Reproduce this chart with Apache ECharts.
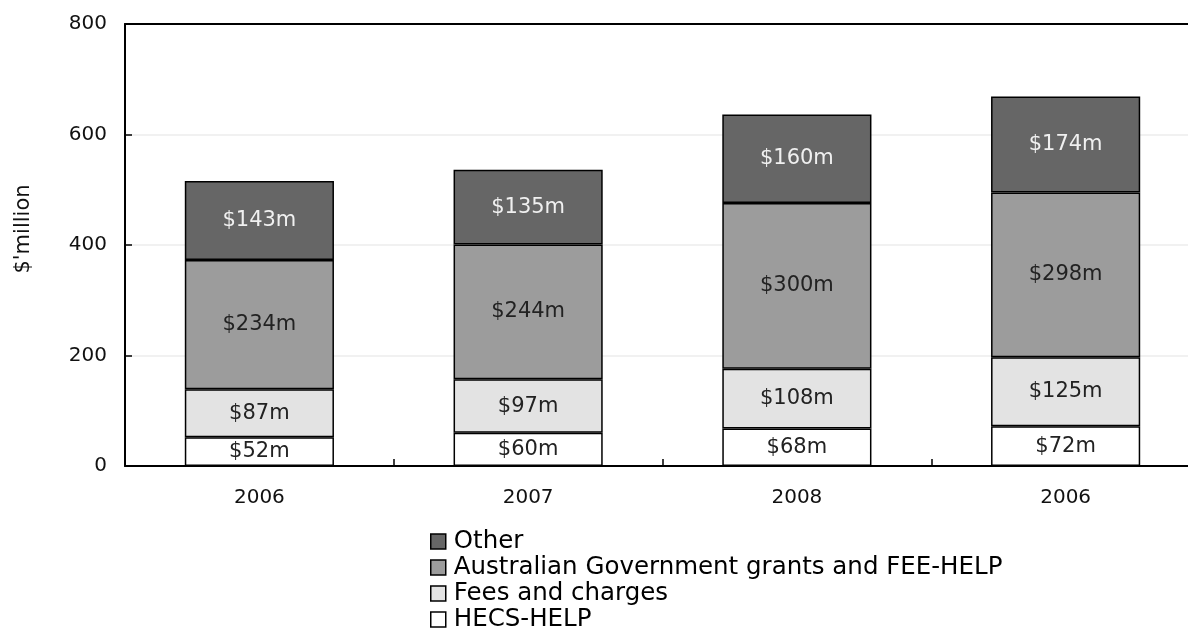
<!DOCTYPE html>
<html>
<head>
<meta charset="utf-8">
<script src="https://cdn.jsdelivr.net/npm/echarts@6/dist/echarts.min.js"></script>
<style>
  html, body { margin: 0; padding: 0; background: #fff; }
  #chart { width: 1188px; height: 637px; }
</style>
</head>
<body>
<div id="chart"></div>
<script>
// Revenue sources by year, $ million
const years = ['2006', '2007', '2008', '2006'];
const hecsHelp = [52, 60, 68, 72];
const feesCharges = [87, 97, 108, 125];
const govGrants = [234, 244, 300, 298];
const other = [143, 135, 160, 174];
const yTicks = [0, 200, 400, 600, 800];

const FONT = 'DejaVu Sans';

function seriesOf(name, data, fill, labelColor) {
  return {
    name: name,
    type: 'bar',
    stack: 'total',
    data: data,
    barWidth: '55.5%',
    itemStyle: { color: fill, borderColor: '#000', borderWidth: 1.5 },
    label: {
      show: true,
      position: 'inside',
      formatter: p => '$' + p.value + 'm',
      color: labelColor,
      fontFamily: FONT,
      fontSize: 21
    },
    emphasis: { disabled: true }
  };
}

const chart = echarts.init(document.getElementById('chart'), null, { renderer: 'canvas' });
chart.setOption({
  animation: false,
  backgroundColor: '#fff',
  grid: { left: 125, top: 24, right: -12, bottom: 171, containLabel: false, outerBoundsMode: 'none' },
  legend: {
    orient: 'vertical',
    left: 430,
    top: 529,
    padding: 0,
    itemWidth: 15,
    itemHeight: 15,
    itemGap: 1,
    icon: 'rect',
    data: ['Other', 'Australian Government grants and FEE-HELP', 'Fees and charges', 'HECS-HELP'],
    textStyle: { fontFamily: FONT, fontSize: 24.5, lineHeight: 24, color: '#000', padding: [0, 0, 0, 3] },
    itemStyle: { borderColor: '#000', borderWidth: 1.5 }
  },
  xAxis: [{
    type: 'category',
    data: years,
    position: 'bottom',
    axisLine: { lineStyle: { color: '#000', width: 2 } },
    axisTick: { show: true, inside: true, length: 7, lineStyle: { color: '#000', width: 1.5 } },
    axisLabel: { fontFamily: FONT, fontSize: 20, color: '#111', margin: 22 }
  }, {
    type: 'category',
    data: years,
    position: 'top',
    axisLine: { lineStyle: { color: '#000', width: 2 } },
    axisTick: { show: false },
    axisLabel: { show: false }
  }],
  yAxis: {
    type: 'value',
    min: yTicks[0],
    max: yTicks[yTicks.length - 1],
    interval: 200,
    name: "$'million",
    nameLocation: 'middle',
    nameGap: 91,
    nameTextStyle: { fontFamily: FONT, fontSize: 21, color: '#111', padding: [0, 0, 0, 32] },
    axisLine: { show: true, lineStyle: { color: '#000', width: 2 } },
    axisTick: { show: true, inside: true, length: 7, lineStyle: { color: '#000', width: 1.5 } },
    axisLabel: { fontFamily: FONT, fontSize: 20, color: '#111', margin: 18 },
    splitLine: { show: true, lineStyle: { color: '#ececec', width: 1.5 } }
  },
  series: [
    seriesOf('HECS-HELP', hecsHelp, '#ffffff', '#222'),
    seriesOf('Fees and charges', feesCharges, '#e3e3e3', '#222'),
    seriesOf('Australian Government grants and FEE-HELP', govGrants, '#9c9c9c', '#222'),
    seriesOf('Other', other, '#666666', '#f0f0f0')
  ]
});
</script>
</body>
</html>
